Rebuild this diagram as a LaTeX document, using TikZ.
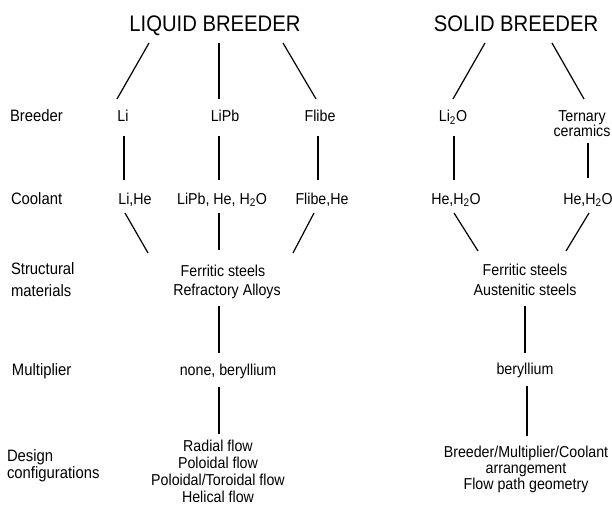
\documentclass[tikz,border=0pt]{standalone}
\usepackage{fontspec}
\setmainfont{Liberation Sans}[FakeStretch=0.9]
\begin{document}
\begin{tikzpicture}[x=1pt,y=1pt,
  every node/.style={inner sep=0pt,outer sep=0pt},
  ttl/.style={anchor=base,font=\fontsize{22.5}{26}\selectfont},
  txt/.style={anchor=base,font=\fontsize{15.8}{18}\selectfont},
  lbl/.style={anchor=base west,font=\fontsize{16.5}{19}\selectfont},
  con/.style={line width=1.2pt}]
\path[use as bounding box,fill=white] (0,0) rectangle (612,-513);
% titles
\node[ttl] (ltitle) at (215,-32) {LIQUID BREEDER};
\node[ttl] (stitle) at (516,-32) {SOLID BREEDER};
% row labels
\node[lbl] (lbreed) at (10,-122) {Breeder};
\node[lbl] (lcool) at (11,-204) {Coolant};
\node[lbl] (lstruct1) at (11,-274) {Structural};
\node[lbl] (lstruct2) at (11,-296) {materials};
\node[lbl] (lmult) at (12,-375) {Multiplier};
\node[lbl] (ldes1) at (7,-461) {Design};
\node[lbl] (ldes2) at (7,-478) {configurations};
% breeder row
\node[txt] (li) at (123,-122) {Li};
\node[txt] (lipb) at (225,-122) {LiPb};
\node[txt] (flibe) at (320,-122) {Flibe};
\node[txt] (li2o) at (453,-122) {Li\textsubscript{2}O};
\node[txt] (tern1) at (582,-122) {Ternary};
\node[txt] (tern2) at (582,-137) {ceramics};
% coolant row
\node[txt] (lihe) at (135,-204) {Li,He};
\node[txt] (lipbc) at (222,-204) {LiPb, He, H\textsubscript{2}O};
\node[txt] (flibec) at (322,-204) {Flibe,He};
\node[txt] (hesl) at (456,-204) {He,H\textsubscript{2}O};
\node[txt] (hesr) at (588,-204) {He,H\textsubscript{2}O};
% structural
\node[txt] (fs1) at (223,-276) {Ferritic steels};
\node[txt] (fs2) at (227,-295) {Refractory Alloys};
\node[txt] (ss1) at (525,-275) {Ferritic steels};
\node[txt] (ss2) at (525,-295) {Austenitic steels};
% multiplier
\node[txt] (lm) at (228,-375) {none, beryllium};
\node[txt] (sm) at (525,-374) {beryllium};
% design
\node[txt] (ld1) at (218,-451) {Radial flow};
\node[txt] (ld2) at (218,-468) {Poloidal flow};
\node[txt] (ld3) at (218,-485) {Poloidal/Toroidal flow};
\node[txt] (ld4) at (218,-502) {Helical flow};
\node[txt] (sd1) at (526,-457) {Breeder/Multiplier/Coolant};
\node[txt] (sd2) at (526,-473) {arrangement};
\node[txt] (sd3) at (526,-489) {Flow path geometry};
% connectors: titles to breeders
\draw[con] ([shift={(-66,-11)}]ltitle.base) -- ([shift={(-6,23)}]li.base);
\draw[con] ([shift={(4,-11)}]ltitle.base) -- ([shift={(-6,23)}]lipb.base);
\draw[con] ([shift={(68,-11)}]ltitle.base) -- ([shift={(-4,23)}]flibe.base);
\draw[con] ([shift={(-31,-11)}]stitle.base) -- ([shift={(0,23)}]li2o.base);
\draw[con] ([shift={(36,-11)}]stitle.base) -- ([shift={(2,23)}]tern1.base);
% breeders to coolants
\draw[con] ([shift={(1,-14)}]li.base) -- ([shift={(-11,24)}]lihe.base);
\draw[con] ([shift={(-6,-14)}]lipb.base) -- ([shift={(-3,24)}]lipbc.base);
\draw[con] ([shift={(-2,-14)}]flibe.base) -- ([shift={(-4,24)}]flibec.base);
\draw[con] ([shift={(1,-14)}]li2o.base) -- ([shift={(-2,24)}]hesl.base);
\draw[con] ([shift={(6,-6)}]tern2.base) -- ([shift={(0,26)}]hesr.base);
% coolants to structural
\draw[con] ([shift={(-10,-9)}]lihe.base) -- ([shift={(-75,23)}]fs1.base);
\draw[con] ([shift={(-3,-9)}]lipbc.base) -- ([shift={(-4,26)}]fs1.base);
\draw[con] ([shift={(-8,-9)}]flibec.base) -- ([shift={(70,23)}]fs1.base);
\draw[con] ([shift={(-2,-9)}]hesl.base) -- ([shift={(-47,24)}]ss1.base);
\draw[con] ([shift={(1,-9)}]hesr.base) -- ([shift={(41,24)}]ss1.base);
% structural to multiplier
\draw[con] ([shift={(-8,-11)}]fs2.base) -- ([shift={(-9,22)}]lm.base);
\draw[con] ([shift={(0,-11)}]ss2.base) -- ([shift={(0,21)}]sm.base);
% multiplier to design
\draw[con] ([shift={(-9,-12)}]lm.base) -- ([shift={(1,17)}]ld1.base);
\draw[con] ([shift={(2,-12)}]sm.base) -- ([shift={(1,21)}]sd1.base);
\end{tikzpicture}
\end{document}
